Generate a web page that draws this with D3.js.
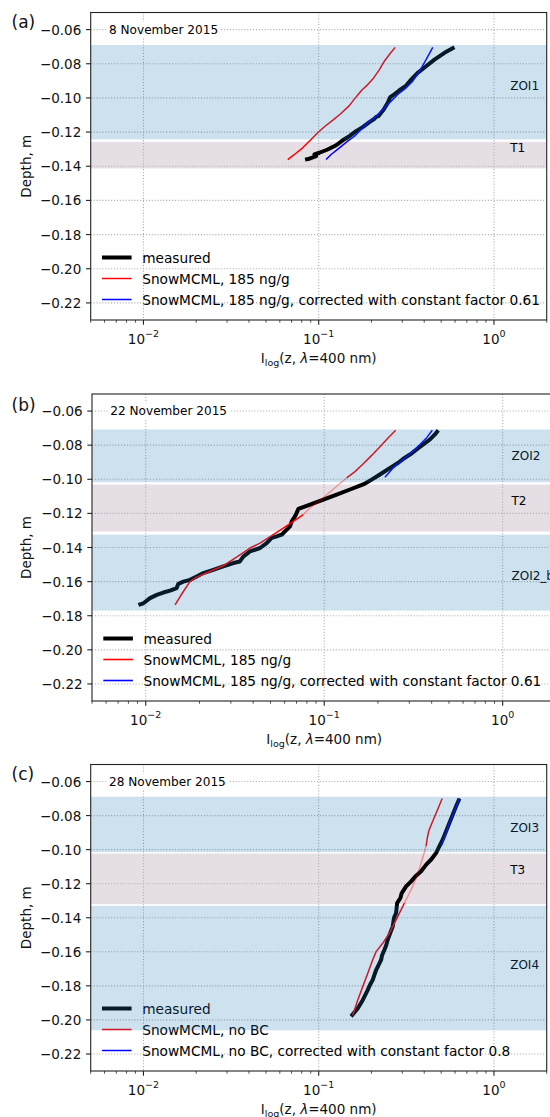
<!DOCTYPE html>
<html><head><meta charset="utf-8">
<script src="https://cdn.jsdelivr.net/npm/d3@7"></script>
<style>
body{margin:0;background:#fff;}
svg{display:block;font-family:"DejaVu Sans",sans-serif;}
</style>
</head><body>
<svg id="chart" width="550" height="1117"></svg>
<script>
// ---------------- DATA ----------------
const xDomain = [0.005, 2];
const yDomain = [-0.23, -0.05];
const yTicks = [-0.22, -0.20, -0.18, -0.16, -0.14, -0.12, -0.10, -0.08, -0.06];
const xMajorTicks = [0.01, 0.1, 1];
const xTickExponents = ["−2", "−1", "0"];
const panelLetters = ["(a)", "(b)", "(c)"];
const dates = ["8 November 2015", "22 November 2015", "28 November 2015"];
const legendLabelsAB = ["measured", "SnowMCML, 185 ng/g", "SnowMCML, 185 ng/g, corrected with constant factor 0.61"];
const legendLabelsC = ["measured", "SnowMCML, no BC", "SnowMCML, no BC, corrected with constant factor 0.8"];

// bands: [label, top depth, bottom depth, label depth, zone]
const bandsA = [["ZOI1", -0.069, -0.1243, -0.0932, "ZOI"], ["T1", -0.1257, -0.1413, -0.1296, "T"]];
const bandsB = [["ZOI2", -0.0708, -0.1017, -0.0865, "ZOI"], ["T2", -0.1031, -0.1306, -0.1125, "T"], ["ZOI2_b", -0.1325, -0.177, -0.157, "ZOI"]];
const bandsC = [["ZOI3", -0.0689, -0.1015, -0.0871, "ZOI"], ["T3", -0.1023, -0.132, -0.1117, "T"], ["ZOI4", -0.133, -0.2061, -0.1678, "ZOI"]];

// series: [intensity, depth]
const measuredA = [[0.595,-0.0704],[0.522,-0.0736],[0.4575,-0.0776],[0.410,-0.0815],[0.367,-0.0853],[0.337,-0.0893],[0.3155,-0.0928],[0.289,-0.0955],[0.2645,-0.0986],[0.2565,-0.0994],[0.2477,-0.1029],[0.235,-0.1068],[0.219,-0.1107],[0.2128,-0.1111],[0.208,-0.1122],[0.1947,-0.1142],[0.1783,-0.1171],[0.1634,-0.1195],[0.1496,-0.1224],[0.137,-0.1248],[0.1257,-0.1277],[0.1125,-0.1302],[0.1009,-0.1321],[0.0945,-0.1331],[0.0967,-0.1341],[0.0885,-0.1356],[0.0836,-0.1361]];
const modelA = [[0.273,-0.0704],[0.253,-0.0746],[0.237,-0.0785],[0.222,-0.0834],[0.206,-0.0883],[0.1905,-0.0922],[0.176,-0.0955],[0.1634,-0.0994],[0.1496,-0.1045],[0.134,-0.1091],[0.120,-0.1131],[0.1078,-0.1169],[0.0987,-0.1204],[0.0905,-0.1243],[0.081,-0.1292],[0.0727,-0.1331],[0.0666,-0.1361]];
const correctedA = [[0.4475,-0.0704],[0.410,-0.0776],[0.376,-0.0844],[0.344,-0.0902],[0.3155,-0.0941],[0.2825,-0.098],[0.253,-0.1029],[0.227,-0.1078],[0.208,-0.1117],[0.1905,-0.1146],[0.1746,-0.1185],[0.160,-0.1224],[0.1464,-0.1253],[0.1313,-0.1292],[0.1177,-0.1331],[0.1102,-0.1361]];

const measuredB = [[0.4356,-0.0713],[0.4175,-0.0737],[0.3915,-0.0766],[0.359,-0.0796],[0.3297,-0.0825],[0.3025,-0.0855],[0.2775,-0.0880],[0.260,-0.0903],[0.2388,-0.0927],[0.219,-0.0953],[0.201,-0.0978],[0.1845,-0.1002],[0.1693,-0.1025],[0.1587,-0.1037],[0.1395,-0.106],[0.1175,-0.109],[0.0989,-0.1119],[0.0833,-0.1149],[0.0716,-0.1174],[0.0701,-0.1197],[0.0686,-0.1217],[0.0658,-0.1247],[0.0643,-0.1276],[0.0603,-0.1306],[0.0578,-0.1325],[0.0542,-0.1335],[0.0508,-0.1344],[0.0476,-0.1374],[0.0437,-0.1403],[0.0384,-0.1423],[0.0352,-0.1453],[0.0337,-0.1482],[0.031,-0.1491],[0.0272,-0.1511],[0.0239,-0.1531],[0.021,-0.1550],[0.0193,-0.1570],[0.0177,-0.1590],[0.01625,-0.1600],[0.01523,-0.1613],[0.0149,-0.1638],[0.01368,-0.1653],[0.01255,-0.1664],[0.01153,-0.1678],[0.01057,-0.1697],[0.0097,-0.1727],[0.0091,-0.1737]];
const modelBUpper = [[0.2516,-0.0713],[0.2286,-0.0756],[0.2054,-0.0809],[0.1845,-0.0860],[0.1656,-0.0909],[0.1488,-0.0955],[0.1337,-0.0992]];
const modelBFaded = [[0.1337,-0.0992],[0.1175,-0.1041],[0.0989,-0.1109],[0.0833,-0.1168],[0.0764,-0.1207]];
const modelBLower = [[0.0764,-0.1207],[0.0671,-0.1247],[0.059,-0.1286],[0.0508,-0.1331],[0.0437,-0.1374],[0.0384,-0.1403],[0.0323,-0.1456],[0.0272,-0.1507],[0.0229,-0.1541],[0.0193,-0.1574],[0.0177,-0.1600],[0.01625,-0.1658],[0.0146,-0.1737]];
const correctedB = [[0.4034,-0.0713],[0.3752,-0.0756],[0.344,-0.0796],[0.3155,-0.0835],[0.2897,-0.0868],[0.2658,-0.0900],[0.2438,-0.0933],[0.219,-0.0988]];

const measuredC = [[0.636,-0.0700],[0.609,-0.0744],[0.5825,-0.0793],[0.5575,-0.0842],[0.534,-0.0891],[0.5106,-0.0940],[0.4887,-0.0980],[0.468,-0.1019],[0.4385,-0.1058],[0.4104,-0.1088],[0.3842,-0.1127],[0.3597,-0.1153],[0.3368,-0.1186],[0.3153,-0.1216],[0.2977,-0.1255],[0.2925,-0.1284],[0.2802,-0.1314],[0.2764,-0.1373],[0.2690,-0.1400],[0.2644,-0.1452],[0.2560,-0.1490],[0.2475,-0.1530],[0.2430,-0.1560],[0.2370,-0.1589],[0.2300,-0.1620],[0.227,-0.1648],[0.2126,-0.1707],[0.2080,-0.1735],[0.2032,-0.1766],[0.1960,-0.1795],[0.1903,-0.1825],[0.1782,-0.1884],[0.1669,-0.1933],[0.153,-0.1979]];
const modelCUpper = [[0.5066,-0.0700],[0.478,-0.0763],[0.4477,-0.0832],[0.4246,-0.0891],[0.4158,-0.0936],[0.410,-0.0980]];
const modelCFaded = [[0.410,-0.0980],[0.3842,-0.1078],[0.36,-0.1166],[0.3368,-0.1235],[0.3083,-0.1314]];
const modelCLower = [[0.3083,-0.1314],[0.2764,-0.1412],[0.253,-0.1491],[0.2318,-0.1550],[0.2126,-0.1599],[0.2032,-0.1648],[0.1903,-0.1727],[0.1782,-0.1806],[0.1669,-0.1884],[0.1563,-0.1973]];
const correctedC = [[0.636,-0.0700],[0.5955,-0.0773],[0.5575,-0.0842],[0.534,-0.0901],[0.5,-0.0980]];

// ---------------- DRAWING ----------------
const svg = d3.select("#chart");
const FS = 13.5;
const LFS = 13.7;
const pinkFill = "#e5dfe5";
const blueOverlay = "#1f77b4";

function drawPanel(cfg, idx) {
  const x = d3.scaleLog().domain(xDomain).range([cfg.left, cfg.right]);
  const y = d3.scaleLinear().domain(yDomain).range([cfg.bottom, cfg.top]);
  const clipId = "clip" + idx;
  svg.append("clipPath").attr("id", clipId).append("rect")
    .attr("x", cfg.left).attr("y", cfg.top)
    .attr("width", cfg.right - cfg.left).attr("height", cfg.bottom - cfg.top);
  const plot = svg.append("g").attr("clip-path", `url(#${clipId})`);

  // T bands (underneath)
  cfg.bands.filter(b => b[4] === "T").forEach(b => {
    plot.append("rect").attr("x", cfg.left).attr("width", cfg.right - cfg.left)
      .attr("y", y(b[1])).attr("height", y(b[2]) - y(b[1])).attr("fill", pinkFill);
  });

  // grid
  const grid = plot.append("g").attr("stroke", "#b0b0b0").attr("stroke-width", 1.1)
    .attr("stroke-dasharray", "1.1,1.8");
  yTicks.forEach(t => grid.append("line").attr("x1", cfg.left).attr("x2", cfg.right)
    .attr("y1", y(t)).attr("y2", y(t)));
  xMajorTicks.forEach(t => grid.append("line").attr("y1", cfg.top).attr("y2", cfg.bottom)
    .attr("x1", x(t)).attr("x2", x(t)));

  // date label with white box
  const dg = plot.append("g");
  const dt = dg.append("text").attr("x", cfg.left + 18.3).attr("y", y(-0.06))
    .attr("dominant-baseline", "central").attr("font-size", 12.1).attr("fill", "#000")
    .text(cfg.date);
  const bb = dt.node().getBBox();
  dg.insert("rect", "text").attr("x", bb.x - 2.5).attr("y", bb.y - 1)
    .attr("width", bb.width + 5).attr("height", bb.height + 2).attr("fill", "#fff");

  const line = d3.line().x(d => x(d[0])).y(d => y(d[1]));
  const drawSeries = (pts, color, w, op) => plot.append("path").datum(pts)
    .attr("d", line).attr("fill", "none").attr("stroke", color).attr("stroke-width", w)
    .attr("stroke-opacity", op).attr("stroke-linejoin", "round").attr("stroke-linecap", "butt");

  drawSeries(cfg.measured, "#000", 4, 1);
  cfg.model.forEach(seg => drawSeries(seg[0], "red", 1.5, seg[1]));
  drawSeries(cfg.corrected, "blue", 1.5, 1);

  // legend
  const rowsY = [cfg.bottom - 62.5, cfg.bottom - 41.5, cfg.bottom - 20.5];
  const lcolors = ["#000", "red", "blue"], lwidth = [4, 1.6, 1.6];
  cfg.legend.forEach((lab, i) => {
    plot.append("line").attr("x1", cfg.left + 11.3).attr("x2", cfg.left + 40.9)
      .attr("y1", rowsY[i]).attr("y2", rowsY[i]).attr("stroke", lcolors[i]).attr("stroke-width", lwidth[i]);
    plot.append("text").attr("x", cfg.left + 51.5).attr("y", rowsY[i])
      .attr("dominant-baseline", "central").attr("font-size", LFS).attr("fill", "#000").text(lab);
  });

  // band labels
  cfg.bands.forEach(b => {
    plot.append("text").attr("x", cfg.left + 419.5).attr("y", y(b[3]))
      .attr("dominant-baseline", "central").attr("font-size", 12).attr("fill", "#000").text(b[0]);
  });

  // blue ZOI overlays (on top)
  cfg.bands.filter(b => b[4] === "ZOI").forEach(b => {
    plot.append("rect").attr("x", cfg.left).attr("width", cfg.right - cfg.left)
      .attr("y", y(b[1])).attr("height", y(b[2]) - y(b[1]))
      .attr("fill", blueOverlay).attr("fill-opacity", 0.22);
  });

  // axes frame
  const ax = svg.append("g");
  ax.append("rect").attr("x", cfg.left).attr("y", cfg.top)
    .attr("width", cfg.right - cfg.left).attr("height", cfg.bottom - cfg.top)
    .attr("fill", "none").attr("stroke", "#222").attr("stroke-width", 1.1);

  // y ticks
  const fmt = d3.format(".2f");
  yTicks.forEach(t => {
    ax.append("line").attr("x1", cfg.left - 4.7).attr("x2", cfg.left).attr("y1", y(t)).attr("y2", y(t))
      .attr("stroke", "#222").attr("stroke-width", 1.1);
    ax.append("text").attr("x", cfg.left - 9.4).attr("y", y(t)).attr("text-anchor", "end")
      .attr("dominant-baseline", "central").attr("font-size", FS).attr("fill", "#111").text(fmt(t));
  });

  // x ticks
  const minor = [];
  [-3, -2, -1, 0].forEach(k => { for (let m = 2; m <= 9; m++) { const v = m * Math.pow(10, k); if (v >= xDomain[0] - 1e-9 && v <= xDomain[1] + 1e-9) minor.push(v); } });
  minor.forEach(v => ax.append("line").attr("x1", x(v)).attr("x2", x(v))
    .attr("y1", cfg.bottom).attr("y2", cfg.bottom + 2.7).attr("stroke", "#222").attr("stroke-width", 0.8));
  xMajorTicks.forEach((t, i) => {
    ax.append("line").attr("x1", x(t)).attr("x2", x(t)).attr("y1", cfg.bottom).attr("y2", cfg.bottom + 4.7)
      .attr("stroke", "#222").attr("stroke-width", 1.1);
    const tx = ax.append("text").attr("x", x(t)).attr("y", cfg.bottom + 23.7)
      .attr("text-anchor", "middle").attr("font-size", FS).attr("fill", "#111");
    tx.append("tspan").text("10");
    tx.append("tspan").attr("dy", -7).attr("font-size", 9.5).text(xTickExponents[i]);
  });

  // x label
  const xl = ax.append("text").attr("x", (cfg.left + cfg.right) / 2).attr("y", cfg.bottom + 42.5)
    .attr("text-anchor", "middle").attr("font-size", FS).attr("fill", "#111");
  xl.append("tspan").text("I");
  xl.append("tspan").attr("dy", 3.5).attr("font-size", 9.5).text("log");
  xl.append("tspan").attr("dy", -3.5).text("(z, ");
  xl.append("tspan").attr("font-style", "italic").text("λ");
  xl.append("tspan").text("=400 nm)");

  // y label
  const cy = (cfg.top + cfg.bottom) / 2;
  ax.append("text").attr("transform", `translate(30.5,${cy}) rotate(-90)`)
    .attr("text-anchor", "middle").attr("font-size", FS).attr("fill", "#111").text("Depth, m");

  // panel letter
  ax.append("text").attr("x", 11.5).attr("y", cfg.letterY).attr("font-size", 17).attr("fill", "#111")
    .text(cfg.letter);
}

const layouts = [
  {left: 90.7, right: 546.7, top: 12.5, bottom: 320, letterY: 27.5},
  {left: 92, right: 556.4, top: 394, bottom: 701, letterY: 411},
  {left: 90.7, right: 546.7, top: 764.5, bottom: 1071, letterY: 780}
];
const panelSeries = [
  {measured: measuredA, model: [[modelA, 1]], corrected: correctedA, bands: bandsA, legend: legendLabelsAB},
  {measured: measuredB, model: [[modelBUpper, 1], [modelBFaded, 0.35], [modelBLower, 1]], corrected: correctedB, bands: bandsB, legend: legendLabelsAB},
  {measured: measuredC, model: [[modelCUpper, 1], [modelCFaded, 0.35], [modelCLower, 1]], corrected: correctedC, bands: bandsC, legend: legendLabelsC}
];
layouts.forEach((L, i) => {
  drawPanel(Object.assign({}, L, panelSeries[i], {date: dates[i], letter: panelLetters[i]}), i);
});
</script>
</body></html>
